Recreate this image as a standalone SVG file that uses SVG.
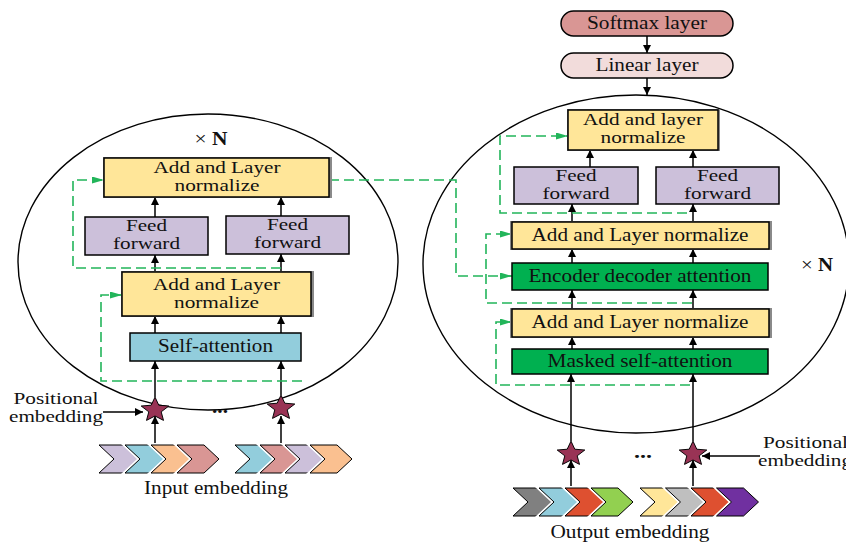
<svg xmlns="http://www.w3.org/2000/svg" width="846" height="542" viewBox="0 0 846 542">
<style>
.t{font-family:"Liberation Serif","Times New Roman",serif;font-size:18px;fill:#111;text-anchor:middle}
.t2{font-family:"Liberation Serif","Times New Roman",serif;font-size:16px;fill:#111;text-anchor:middle}
.box{stroke:#000;stroke-width:1.5}
.sh{fill:#8a8a8a}
.yel{fill:#FFE699}
.lav{fill:#CCC0DA}
.blu{fill:#92CDDC}
.grn{fill:#00B050}
.ell{fill:none;stroke:#000;stroke-width:1.4}
.ar{stroke:#000;stroke-width:1.5;fill:none;marker-end:url(#ah)}
.dash{stroke:#22B55A;stroke-width:1.6;fill:none;stroke-dasharray:10,5}
.dar{marker-end:url(#gh)}
.star{fill:#993355;stroke:#000;stroke-width:1}
.cw{fill:none;stroke:#fff;stroke-width:4;stroke-linejoin:miter}
.cb{stroke:#000;stroke-width:1}
</style>
<defs>
<marker id="ah" markerUnits="userSpaceOnUse" markerWidth="9" markerHeight="9" refX="8" refY="4" orient="auto"><path d="M0,0 L8,4 L0,8 z" fill="#000"/></marker>
<marker id="gh" markerUnits="userSpaceOnUse" markerWidth="13" markerHeight="9" refX="12" refY="3.5" orient="auto"><path d="M0,0 L12,3.5 L0,7 z" fill="#22B55A"/></marker>
<polygon id="chev" points="0,0 27,0 42,14 27,28 0,28 15,14"/>
<polygon id="st" points="0,-14 3.8,-5.2 13.8,-4.3 6.2,2 8.5,11.3 0,6.5 -8.5,11.3 -6.2,2 -13.8,-4.3 -3.8,-5.2" transform="scale(1,0.92)"/>
</defs>

<ellipse class="ell" cx="208" cy="262" rx="190" ry="148"/>
<ellipse class="ell" cx="636" cy="264" rx="213" ry="169"/>

<g id="connectors">
<path class="ar" d="M155,445 V416"/>
<path class="ar" d="M281,445 V416"/>
<path class="ar" d="M155,397 V361"/>
<path class="ar" d="M281,395 V361"/>
<path class="ar" d="M155,333 V316"/>
<path class="ar" d="M281,333 V316"/>
<path class="ar" d="M155,272 V255"/>
<path class="ar" d="M281,272 V254"/>
<path class="ar" d="M155,217 V197"/>
<path class="ar" d="M281,216 V197"/>
<path class="ar" d="M103,412 H143"/>
<path class="dash dar" d="M281,268 H73 V180 H104"/>
<path class="dash dar" d="M302,381 H101 V295 H122"/>
<path class="dash dar" d="M329,180 H456 V276 H512"/>
<path class="ar" d="M647,36 V53"/>
<path class="ar" d="M647,78 V95"/>
<path class="ar" d="M590,167 V150"/>
<path class="ar" d="M693,167 V150"/>
<path class="ar" d="M572,222 V204"/>
<path class="ar" d="M693,222 V204"/>
<path class="ar" d="M572,263 V249"/>
<path class="ar" d="M693,263 V249"/>
<path class="ar" d="M572,309 V290"/>
<path class="ar" d="M693,309 V290"/>
<path class="ar" d="M572,349 V337"/>
<path class="ar" d="M693,349 V337"/>
<path class="ar" d="M571,441 V374"/>
<path class="ar" d="M693,441 V374"/>
<path class="ar" d="M571,488 V460"/>
<path class="ar" d="M693,488 V460"/>
<path class="ar" d="M760,456 H702"/>
<path class="dash dar" d="M687,213 H500 V136 H568"/>
<path class="dash dar" d="M692,303 H486 V234 H512"/>
<path class="dash dar" d="M690,385 H496 V322 H512"/>
</g>

<g id="enc-xn"><text class="t" x="211" y="145" textLength="33" lengthAdjust="spacingAndGlyphs">× <tspan font-weight="bold">N</tspan></text></g>

<g id="enc-addnorm2">
<rect class="sh" x="103" y="157" width="229" height="41"/>
<rect class="box yel" x="104" y="158" width="225" height="39"/>
<text class="t2" x="217" y="173" textLength="127" lengthAdjust="spacingAndGlyphs">Add and Layer</text>
<text class="t2" x="217" y="191" textLength="85" lengthAdjust="spacingAndGlyphs">normalize</text>
</g>
<g id="enc-ff1">
<rect class="box lav" x="85" y="217" width="123" height="38"/>
<text class="t2" x="146.5" y="231" textLength="41" lengthAdjust="spacingAndGlyphs">Feed</text>
<text class="t2" x="146.5" y="249" textLength="67" lengthAdjust="spacingAndGlyphs">forward</text>
</g>
<g id="enc-ff2">
<rect class="box lav" x="226" y="216" width="123" height="38"/>
<text class="t2" x="287.5" y="230" textLength="41" lengthAdjust="spacingAndGlyphs">Feed</text>
<text class="t2" x="287.5" y="248" textLength="67" lengthAdjust="spacingAndGlyphs">forward</text>
</g>
<g id="enc-addnorm1">
<rect class="sh" x="121" y="271" width="193" height="46"/>
<rect class="box yel" x="122" y="272" width="189" height="44"/>
<text class="t2" x="216.5" y="290" textLength="127" lengthAdjust="spacingAndGlyphs">Add and Layer</text>
<text class="t2" x="216.5" y="308" textLength="85" lengthAdjust="spacingAndGlyphs">normalize</text>
</g>
<g id="enc-selfatt">
<rect class="box blu" x="130" y="333" width="171" height="28"/>
<text class="t" x="215.5" y="352" textLength="115" lengthAdjust="spacingAndGlyphs">Self-attention</text>
</g>

<g id="enc-pos">
<text class="t2" x="56" y="404" textLength="85" lengthAdjust="spacingAndGlyphs">Positional</text>
<text class="t2" x="56" y="422" textLength="94" lengthAdjust="spacingAndGlyphs">embedding</text>
<use href="#st" class="star" x="155" y="410"/>
<use href="#st" class="star" x="281" y="408"/>
<text class="t" x="220" y="413" font-weight="bold" textLength="16" lengthAdjust="spacingAndGlyphs">...</text>
</g>

<g id="enc-input">
<use href="#chev" class="cw" x="99" y="445"/><use href="#chev" class="cb" fill="#CCC0DA" x="99" y="445"/>
<use href="#chev" class="cw" x="125" y="445"/><use href="#chev" class="cb" fill="#92CDDC" x="125" y="445"/>
<use href="#chev" class="cw" x="151" y="445"/><use href="#chev" class="cb" fill="#FAC090" x="151" y="445"/>
<use href="#chev" class="cw" x="177" y="445"/><use href="#chev" class="cb" fill="#D99694" x="177" y="445"/>
<use href="#chev" class="cw" x="235" y="445"/><use href="#chev" class="cb" fill="#92CDDC" x="235" y="445"/>
<use href="#chev" class="cw" x="260" y="445"/><use href="#chev" class="cb" fill="#D99694" x="260" y="445"/>
<use href="#chev" class="cw" x="285" y="445"/><use href="#chev" class="cb" fill="#CCC0DA" x="285" y="445"/>
<use href="#chev" class="cw" x="310" y="445"/><use href="#chev" class="cb" fill="#FAC090" x="310" y="445"/>
<text class="t" x="216" y="494" textLength="144" lengthAdjust="spacingAndGlyphs">Input embedding</text>
</g>

<g id="softmax">
<rect class="box" fill="#D99694" x="561" y="11" width="172" height="25" rx="12.5"/>
<text class="t" x="647" y="29" textLength="120" lengthAdjust="spacingAndGlyphs">Softmax layer</text>
</g>
<g id="linear">
<rect class="box" fill="#F2DCDB" x="561" y="53" width="172" height="25" rx="12.5"/>
<text class="t" x="647" y="71" textLength="103" lengthAdjust="spacingAndGlyphs">Linear layer</text>
</g>

<g id="dec-addnorm3">
<rect class="sh" x="567" y="109" width="153" height="42"/>
<rect class="box yel" x="568" y="110" width="150" height="40"/>
<text class="t2" x="643" y="125" textLength="120" lengthAdjust="spacingAndGlyphs">Add and layer</text>
<text class="t2" x="643" y="143" textLength="85" lengthAdjust="spacingAndGlyphs">normalize</text>
</g>
<g id="dec-ff1">
<rect class="box lav" x="514" y="167" width="124" height="37"/>
<text class="t2" x="576" y="181" textLength="41" lengthAdjust="spacingAndGlyphs">Feed</text>
<text class="t2" x="576" y="199" textLength="67" lengthAdjust="spacingAndGlyphs">forward</text>
</g>
<g id="dec-ff2">
<rect class="box lav" x="656" y="167" width="123" height="37"/>
<text class="t2" x="717.5" y="181" textLength="41" lengthAdjust="spacingAndGlyphs">Feed</text>
<text class="t2" x="717.5" y="199" textLength="67" lengthAdjust="spacingAndGlyphs">forward</text>
</g>
<g id="dec-addnorm2">
<rect class="sh" x="510" y="221" width="262" height="29"/>
<rect class="box yel" x="512" y="222" width="257" height="27"/>
<text class="t" x="640" y="241" textLength="217" lengthAdjust="spacingAndGlyphs">Add and Layer normalize</text>
</g>
<g id="dec-encdec">
<rect class="box grn" x="512" y="263" width="256" height="27"/>
<text class="t" x="640" y="282" textLength="223" lengthAdjust="spacingAndGlyphs">Encoder decoder attention</text>
</g>
<g id="dec-addnorm1">
<rect class="sh" x="510" y="308" width="262" height="30"/>
<rect class="box yel" x="512" y="309" width="257" height="28"/>
<text class="t" x="640" y="328" textLength="217" lengthAdjust="spacingAndGlyphs">Add and Layer normalize</text>
</g>
<g id="dec-masked">
<rect class="box grn" x="512" y="349" width="256" height="25"/>
<text class="t" x="640" y="367" textLength="185" lengthAdjust="spacingAndGlyphs">Masked self-attention</text>
</g>
<g id="dec-xn"><text class="t" x="817" y="271" textLength="32" lengthAdjust="spacingAndGlyphs">× <tspan font-weight="bold">N</tspan></text></g>

<g id="dec-pos">
<use href="#st" class="star" x="571" y="454"/>
<use href="#st" class="star" x="693" y="454"/>
<text class="t" x="643" y="458" font-weight="bold" textLength="18" lengthAdjust="spacingAndGlyphs">...</text>
<text class="t2" x="805.5" y="448" textLength="85" lengthAdjust="spacingAndGlyphs">Positional</text>
<text class="t2" x="805" y="466" textLength="94" lengthAdjust="spacingAndGlyphs">embedding</text>
</g>

<g id="dec-output">
<use href="#chev" class="cw" x="513" y="488"/><use href="#chev" class="cb" fill="#808080" x="513" y="488"/>
<use href="#chev" class="cw" x="539" y="488"/><use href="#chev" class="cb" fill="#92CDDC" x="539" y="488"/>
<use href="#chev" class="cw" x="565" y="488"/><use href="#chev" class="cb" fill="#DE5030" x="565" y="488"/>
<use href="#chev" class="cw" x="591" y="488"/><use href="#chev" class="cb" fill="#92D050" x="591" y="488"/>
<use href="#chev" class="cw" x="640" y="488"/><use href="#chev" class="cb" fill="#FFE699" x="640" y="488"/>
<use href="#chev" class="cw" x="665.5" y="488"/><use href="#chev" class="cb" fill="#BFBFBF" x="665.5" y="488"/>
<use href="#chev" class="cw" x="691" y="488"/><use href="#chev" class="cb" fill="#DE5030" x="691" y="488"/>
<use href="#chev" class="cw" x="716.5" y="488"/><use href="#chev" class="cb" fill="#7030A0" x="716.5" y="488"/>
<text class="t" x="630" y="538" textLength="159" lengthAdjust="spacingAndGlyphs">Output embedding</text>
</g>
</svg>
